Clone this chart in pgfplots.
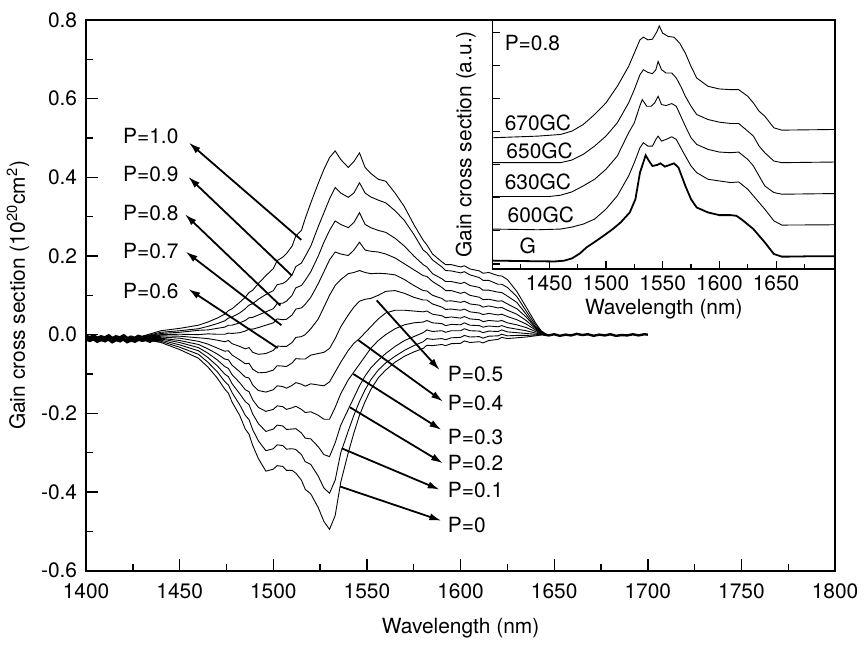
\documentclass[border=0pt]{standalone}
\usepackage{fontspec}
\setmainfont{TeX Gyre Heros}
\usepackage{pgfplots}
\pgfplotsset{compat=1.18}
\usepackage{pgfplotstable}
\usetikzlibrary{arrows.meta}

% gain cross section for P = 0 ... 1.0 (columns p0 ... p10)
\pgfplotstableread{
w     p0     p1     p2     p3     p4     p5     p6     p7     p8     p9     p10
1430 -0.012 -0.011 -0.011 -0.010 -0.010 -0.009 -0.008 -0.007 -0.006 -0.005 -0.004
1440 -0.020 -0.017 -0.014 -0.011 -0.009 -0.006 -0.003 0.000 0.003 0.006 0.010
1450 -0.038 -0.032 -0.026 -0.020 -0.015 -0.009 -0.004 0.001 0.006 0.010 0.016
1460 -0.060 -0.050 -0.041 -0.033 -0.025 -0.017 -0.008 0.000 0.011 0.015 0.024
1465 -0.082 -0.070 -0.058 -0.047 -0.036 -0.024 -0.010 0.002 0.012 0.021 0.032
1470 -0.110 -0.094 -0.079 -0.064 -0.049 -0.034 -0.014 0.001 0.016 0.028 0.042
1474 -0.138 -0.119 -0.100 -0.081 -0.062 -0.042 -0.018 0.001 0.019 0.035 0.052
1476 -0.149 -0.128 -0.107 -0.086 -0.064 -0.041 -0.015 0.004 0.024 0.042 0.061
1478 -0.172 -0.148 -0.125 -0.102 -0.078 -0.052 -0.023 0.003 0.024 0.045 0.066
1482 -0.205 -0.178 -0.150 -0.122 -0.094 -0.064 -0.030 0.005 0.030 0.055 0.082
1485 -0.240 -0.205 -0.170 -0.140 -0.108 -0.074 -0.036 0.009 0.036 0.066 0.095
1487 -0.253 -0.216 -0.178 -0.145 -0.110 -0.073 -0.033 0.014 0.043 0.075 0.107
1489 -0.282 -0.242 -0.202 -0.166 -0.128 -0.088 -0.045 0.014 0.044 0.079 0.113
1492 -0.315 -0.270 -0.226 -0.185 -0.142 -0.097 -0.050 0.018 0.050 0.090 0.130
1496 -0.347 -0.295 -0.246 -0.195 -0.146 -0.096 -0.048 0.024 0.058 0.102 0.150
1500 -0.342 -0.290 -0.240 -0.190 -0.140 -0.090 -0.040 0.030 0.066 0.112 0.168
1502 -0.333 -0.280 -0.230 -0.181 -0.130 -0.079 -0.029 0.040 0.079 0.127 0.188
1505 -0.335 -0.282 -0.232 -0.183 -0.132 -0.080 -0.030 0.038 0.080 0.130 0.197
1507 -0.345 -0.291 -0.241 -0.190 -0.136 -0.081 -0.030 0.039 0.085 0.136 0.206
1510 -0.345 -0.290 -0.240 -0.186 -0.129 -0.072 -0.020 0.050 0.100 0.152 0.225
1512 -0.352 -0.292 -0.239 -0.182 -0.122 -0.061 -0.007 0.065 0.119 0.173 0.251
1515 -0.370 -0.305 -0.250 -0.190 -0.126 -0.062 -0.005 0.068 0.125 0.182 0.265
1517 -0.393 -0.323 -0.263 -0.198 -0.131 -0.062 0.000 0.077 0.138 0.199 0.295
1520 -0.405 -0.330 -0.265 -0.196 -0.125 -0.052 0.015 0.095 0.160 0.225 0.335
1524 -0.440 -0.360 -0.285 -0.205 -0.128 -0.048 0.040 0.130 0.200 0.275 0.385
1527 -0.475 -0.390 -0.305 -0.215 -0.130 -0.045 0.070 0.160 0.235 0.310 0.420
1530 -0.495 -0.403 -0.310 -0.215 -0.120 -0.035 0.100 0.190 0.265 0.345 0.450
1533 -0.460 -0.370 -0.275 -0.185 -0.095 -0.010 0.125 0.210 0.289 0.374 0.467
1536 -0.375 -0.300 -0.230 -0.150 -0.070 0.020 0.140 0.205 0.280 0.360 0.445
1540 -0.300 -0.245 -0.190 -0.115 -0.040 0.050 0.155 0.201 0.272 0.349 0.425
1543 -0.250 -0.205 -0.160 -0.095 -0.022 0.070 0.158 0.215 0.285 0.360 0.440
1546 -0.205 -0.170 -0.130 -0.075 -0.010 0.085 0.163 0.235 0.310 0.386 0.462
1549 -0.170 -0.140 -0.105 -0.055 0.005 0.090 0.158 0.215 0.280 0.360 0.425
1552 -0.140 -0.115 -0.085 -0.035 0.020 0.092 0.155 0.212 0.272 0.350 0.410
1556 -0.110 -0.090 -0.065 -0.015 0.040 0.100 0.156 0.210 0.265 0.342 0.395
1560 -0.090 -0.072 -0.048 0.000 0.055 0.110 0.155 0.205 0.260 0.335 0.390
1565 -0.070 -0.055 -0.030 0.015 0.062 0.112 0.152 0.195 0.245 0.315 0.360
1570 -0.055 -0.040 -0.015 0.025 0.062 0.105 0.140 0.180 0.225 0.290 0.325
1575 -0.044 -0.028 -0.005 0.030 0.060 0.095 0.125 0.165 0.200 0.255 0.280
1580 -0.035 -0.018 0.005 0.032 0.058 0.088 0.112 0.150 0.178 0.215 0.240
1582 -0.027 -0.010 0.012 0.036 0.060 0.088 0.111 0.148 0.172 0.208 0.228
1585 -0.028 -0.012 0.008 0.030 0.052 0.078 0.100 0.135 0.155 0.190 0.205
1590 -0.025 -0.010 0.010 0.028 0.048 0.070 0.092 0.120 0.142 0.172 0.185
1592 -0.028 -0.013 0.006 0.023 0.043 0.064 0.085 0.112 0.135 0.163 0.178
1595 -0.023 -0.008 0.010 0.026 0.045 0.065 0.086 0.112 0.135 0.162 0.178
1600 -0.022 -0.007 0.010 0.025 0.042 0.062 0.082 0.105 0.130 0.157 0.172
1602 -0.016 -0.002 0.015 0.030 0.046 0.065 0.085 0.108 0.133 0.160 0.175
1605 -0.020 -0.006 0.010 0.024 0.040 0.058 0.078 0.100 0.125 0.152 0.167
1610 -0.018 -0.005 0.009 0.023 0.038 0.055 0.075 0.095 0.120 0.145 0.162
1612 -0.021 -0.009 0.005 0.019 0.033 0.051 0.070 0.089 0.113 0.138 0.156
1615 -0.015 -0.004 0.009 0.022 0.036 0.054 0.073 0.090 0.113 0.138 0.158
1620 -0.012 -0.003 0.008 0.020 0.034 0.050 0.068 0.085 0.108 0.128 0.150
1622 -0.007 0.001 0.012 0.023 0.036 0.052 0.069 0.086 0.107 0.128 0.149
1625 -0.010 -0.003 0.007 0.018 0.030 0.046 0.062 0.078 0.098 0.120 0.140
1630 -0.008 -0.002 0.005 0.014 0.025 0.038 0.052 0.066 0.082 0.097 0.110
1635 -0.006 -0.002 0.003 0.010 0.018 0.027 0.036 0.045 0.052 0.060 0.070
1640 -0.003 -0.001 0.001 0.004 0.008 0.012 0.015 0.018 0.020 0.025 0.030
1643 -0.001 0.000 0.000 0.001 0.002 0.003 0.004 0.005 0.006 0.008 0.010
1646 0.000 0.000 0.000 0.000 0.000 0.000 0.000 0.000 0.000 0.000 0.000
}\gaincs

\begin{document}
\begin{tikzpicture}[font=\fontsize{10.5}{12}\selectfont,
  arr/.style={-{Latex[length=6pt,width=3.6pt]}, line width=0.9pt}]
\begin{axis}[
    scale only axis,
    width=376pt, height=276.5pt,
    xmin=1400, xmax=1800, ymin=-0.6, ymax=0.8,
    xtick={1400,1450,...,1800}, minor x tick num=1,
    ytick={-0.6,-0.4,-0.2,0,0.2,0.4,0.6,0.8}, minor y tick num=1,
    tick align=inside, xtick pos=bottom, ytick pos=left,
    major tick length=6pt, minor tick length=3.5pt,
    axis line style={line width=0.9pt},
    every tick/.style={black, line width=0.7pt},
    /pgf/number format/assume math mode=true,
    xticklabel style={/pgf/number format/set thousands separator={}, yshift=-3pt},
    yticklabel style={/pgf/number format/fixed, /pgf/number format/fixed zerofill,
                      /pgf/number format/precision=1, xshift=-1pt},
    xlabel={Wavelength (nm)},
    xlabel style={yshift=-3pt},
    ylabel={Gain cross section (10\textsuperscript{20}cm\textsuperscript{2})},
    ylabel style={yshift=-1pt},
    no markers,
]
\pgfplotsinvokeforeach{0,...,10}{
  \addplot[black, line width=0.45pt] table[x=w, y=p#1] {\gaincs};
}
% noisy flat parts where all curves overlap
\addplot[black, line width=3pt] coordinates {
 (1400,-0.008) (1402,-0.011) (1404,-0.007) (1406,-0.013) (1408,-0.009) (1410,-0.012)
 (1412,-0.007) (1414,-0.014) (1416,-0.009) (1418,-0.012) (1420,-0.007) (1422,-0.014)
 (1424,-0.010) (1426,-0.013) (1428,-0.008) (1430,-0.011) (1432,-0.009) (1434,-0.013)
 (1436,-0.008) (1438,-0.011) (1440,-0.006)
};
\addplot[black, line width=1.2pt] coordinates {
 (1644,0.001) (1647,-0.002) (1650,0.001) (1653,-0.003) (1656,0.000) (1659,-0.002)
 (1662,0.002) (1665,-0.001) (1668,0.001) (1671,-0.003) (1674,0.000) (1677,-0.002)
 (1680,0.001) (1683,-0.003) (1686,-0.001) (1689,-0.002) (1692,0.001) (1695,-0.002)
 (1698,0.001) (1700,0.000)
};
% arrows and labels
\draw[arr] (axis cs:1514.9,0.241) -- (axis cs:1454.9,0.488);
\draw[arr] (axis cs:1509.9,0.150) -- (axis cs:1454.6,0.401);
\draw[arr] (axis cs:1503.7,0.074) -- (axis cs:1452.8,0.306);
\draw[arr] (axis cs:1504.3,0.024) -- (axis cs:1453.2,0.211);
\draw[arr] (axis cs:1502.3,-0.034) -- (axis cs:1454.6,0.116);
\node[anchor=east, inner sep=0pt] at (axis cs:1449.5,0.504) {P=1.0};
\node[anchor=east, inner sep=0pt] at (axis cs:1449.5,0.408) {P=0.9};
\node[anchor=east, inner sep=0pt] at (axis cs:1449.5,0.309) {P=0.8};
\node[anchor=east, inner sep=0pt] at (axis cs:1449.5,0.213) {P=0.7};
\node[anchor=east, inner sep=0pt] at (axis cs:1449.5,0.111) {P=0.6};
\draw[arr] (axis cs:1555.2,0.087) -- (axis cs:1588.8,-0.090);
\draw[arr] (axis cs:1545.4,-0.014) -- (axis cs:1590.6,-0.170);
\draw[arr] (axis cs:1542.7,-0.100) -- (axis cs:1589.7,-0.242);
\draw[arr] (axis cs:1541.0,-0.185) -- (axis cs:1590.6,-0.327);
\draw[arr] (axis cs:1536.5,-0.289) -- (axis cs:1588.8,-0.394);
\draw[arr] (axis cs:1535.6,-0.386) -- (axis cs:1589.7,-0.473);
\node[anchor=west, inner sep=0pt] at (axis cs:1593,-0.100) {P=0.5};
\node[anchor=west, inner sep=0pt] at (axis cs:1593,-0.175) {P=0.4};
\node[anchor=west, inner sep=0pt] at (axis cs:1593,-0.259) {P=0.3};
\node[anchor=west, inner sep=0pt] at (axis cs:1593,-0.327) {P=0.2};
\node[anchor=west, inner sep=0pt] at (axis cs:1593,-0.394) {P=0.1};
\node[anchor=west, inner sep=0pt] at (axis cs:1593,-0.484) {P=0};
\coordinate (insetpos) at (rel axis cs:1,1);
\end{axis}

% inset
\begin{axis}[
    at={(insetpos)}, anchor=north east,
    scale only axis,
    width=172pt, height=125pt,
    xmin=1400, xmax=1702, ymin=0, ymax=10,
    xtick={1450,1500,...,1650}, minor xtick={1425,1475,...,1675},
    ytick={0.2,1.53,2.86,4.19,5.52,6.85,8.18,9.51}, yticklabels={},
    tick align=inside, xtick pos=bottom, ytick pos=left,
    major tick length=4pt, minor tick length=2.5pt,
    axis line style={line width=0.8pt},
    every tick/.style={black, line width=0.6pt},
    axis background/.style={fill=white},
    /pgf/number format/assume math mode=true,
    xticklabel style={/pgf/number format/set thousands separator={}},
    xlabel={Wavelength (nm)},
    ylabel={Gain cross section (a.u.)},
    xlabel style={yshift=3pt},
    ylabel style={yshift=-2pt},
    no markers,
]
% G
\addplot[black, line width=0.9pt] coordinates {
 (1400,0.333) (1420,0.32) (1440,0.307) (1455,0.30) (1463,0.33) (1470,0.42) (1477,0.62)
 (1483,0.867) (1490,1.08) (1498,1.333) (1506,1.6) (1513,1.867) (1521,2.267)
 (1526,2.8) (1530,3.867) (1535,4.56)
 (1538,4.333) (1541,4.133) (1545,4.173) (1548,4.24) (1552,4.107) (1556,4.173)
 (1560,4.24) (1564,4.067) (1570,3.333) (1575,2.8) (1580,2.467) (1590,2.267)
 (1600,2.16) (1610,2.16) (1615,2.133) (1620,1.973) (1630,1.6) (1640,1.067)
 (1648,0.6) (1655,0.493) (1660,0.493) (1680,0.507) (1702,0.507)
};
% 600GC
\addplot[black, line width=0.45pt] coordinates {
 (1400,1.6) (1440,1.573) (1460,1.6) (1470,1.68) (1480,1.8) (1490,2.0) (1500,2.4)
 (1510,2.933) (1520,3.733) (1525,4.267) (1530,4.867) (1533,5.067) (1537,4.933)
 (1541,4.933) (1544,5.2) (1546,5.333) (1549,5.133) (1553,5.2) (1558,5.307)
 (1562,5.2) (1566,4.867) (1570,4.533) (1575,4.133) (1580,3.867) (1590,3.6)
 (1600,3.533) (1610,3.467) (1617,3.493) (1625,3.2) (1630,2.933) (1640,2.4)
 (1648,1.933) (1655,1.76) (1702,1.773)
};
% 630GC
\addplot[black, line width=0.45pt] coordinates {
 (1400,2.907) (1450,2.907) (1460,2.96) (1470,3.093) (1480,3.333) (1490,3.6)
 (1500,4.0) (1510,4.533) (1520,5.467) (1525,5.867) (1530,6.56) (1532,6.8)
 (1536,6.533) (1540,6.533) (1543,6.667) (1546,6.933) (1549,6.6) (1553,6.56)
 (1558,6.64) (1562,6.533) (1566,6.133) (1570,5.733) (1575,5.267) (1580,5.0)
 (1590,4.8) (1600,4.693) (1610,4.667) (1617,4.693) (1625,4.4) (1630,4.133)
 (1635,3.733) (1640,3.333) (1648,3.067) (1655,3.0) (1702,3.027)
};
% 650GC
\addplot[black, line width=0.45pt] coordinates {
 (1400,4.267) (1460,4.267) (1470,4.373) (1480,4.6) (1490,4.933) (1500,5.333)
 (1510,5.867) (1520,6.667) (1525,7.2) (1530,7.8) (1533,8.0) (1537,7.893)
 (1541,7.84) (1544,8.0) (1546,8.333) (1549,8.0) (1553,7.867) (1558,7.867)
 (1562,7.667) (1566,7.333) (1570,6.933) (1575,6.533) (1580,6.2) (1590,6.0)
 (1600,5.893) (1610,5.84) (1617,5.84) (1625,5.533) (1630,5.333) (1635,4.933)
 (1640,4.667) (1648,4.333) (1655,4.267) (1702,4.293)
};
% 670GC
\addplot[black, line width=0.45pt] coordinates {
 (1400,5.267) (1440,5.333) (1460,5.4) (1470,5.533) (1480,5.8) (1490,6.2)
 (1500,6.667) (1510,7.333) (1520,8.133) (1525,8.667) (1530,9.2) (1533,9.307)
 (1537,9.2) (1541,9.227) (1545,9.533) (1547,9.76) (1550,9.467) (1555,9.333)
 (1560,9.307) (1565,9.067) (1570,8.667) (1575,8.133) (1580,7.667) (1590,7.333)
 (1600,7.227) (1610,7.2) (1617,7.2) (1625,6.933) (1630,6.667) (1635,6.333)
 (1640,6.133) (1648,5.667) (1655,5.573) (1702,5.6)
};
\node[anchor=west, inner sep=0pt] at (axis cs:1410.5,9.08) {P=0.8};
\node[anchor=west, inner sep=0pt] at (axis cs:1410.5,5.88) {670GC};
\node[anchor=west, inner sep=0pt] at (axis cs:1412,4.73) {650GC};
\node[anchor=west, inner sep=0pt] at (axis cs:1410.5,3.49) {630GC};
\node[anchor=west, inner sep=0pt] at (axis cs:1413,2.16) {600GC};
\node[inner sep=0pt] at (axis cs:1431,0.92) {G};
\end{axis}
% white margin above the plot, as in the reference
\path ([yshift=10pt]insetpos);
\end{tikzpicture}
\end{document}
